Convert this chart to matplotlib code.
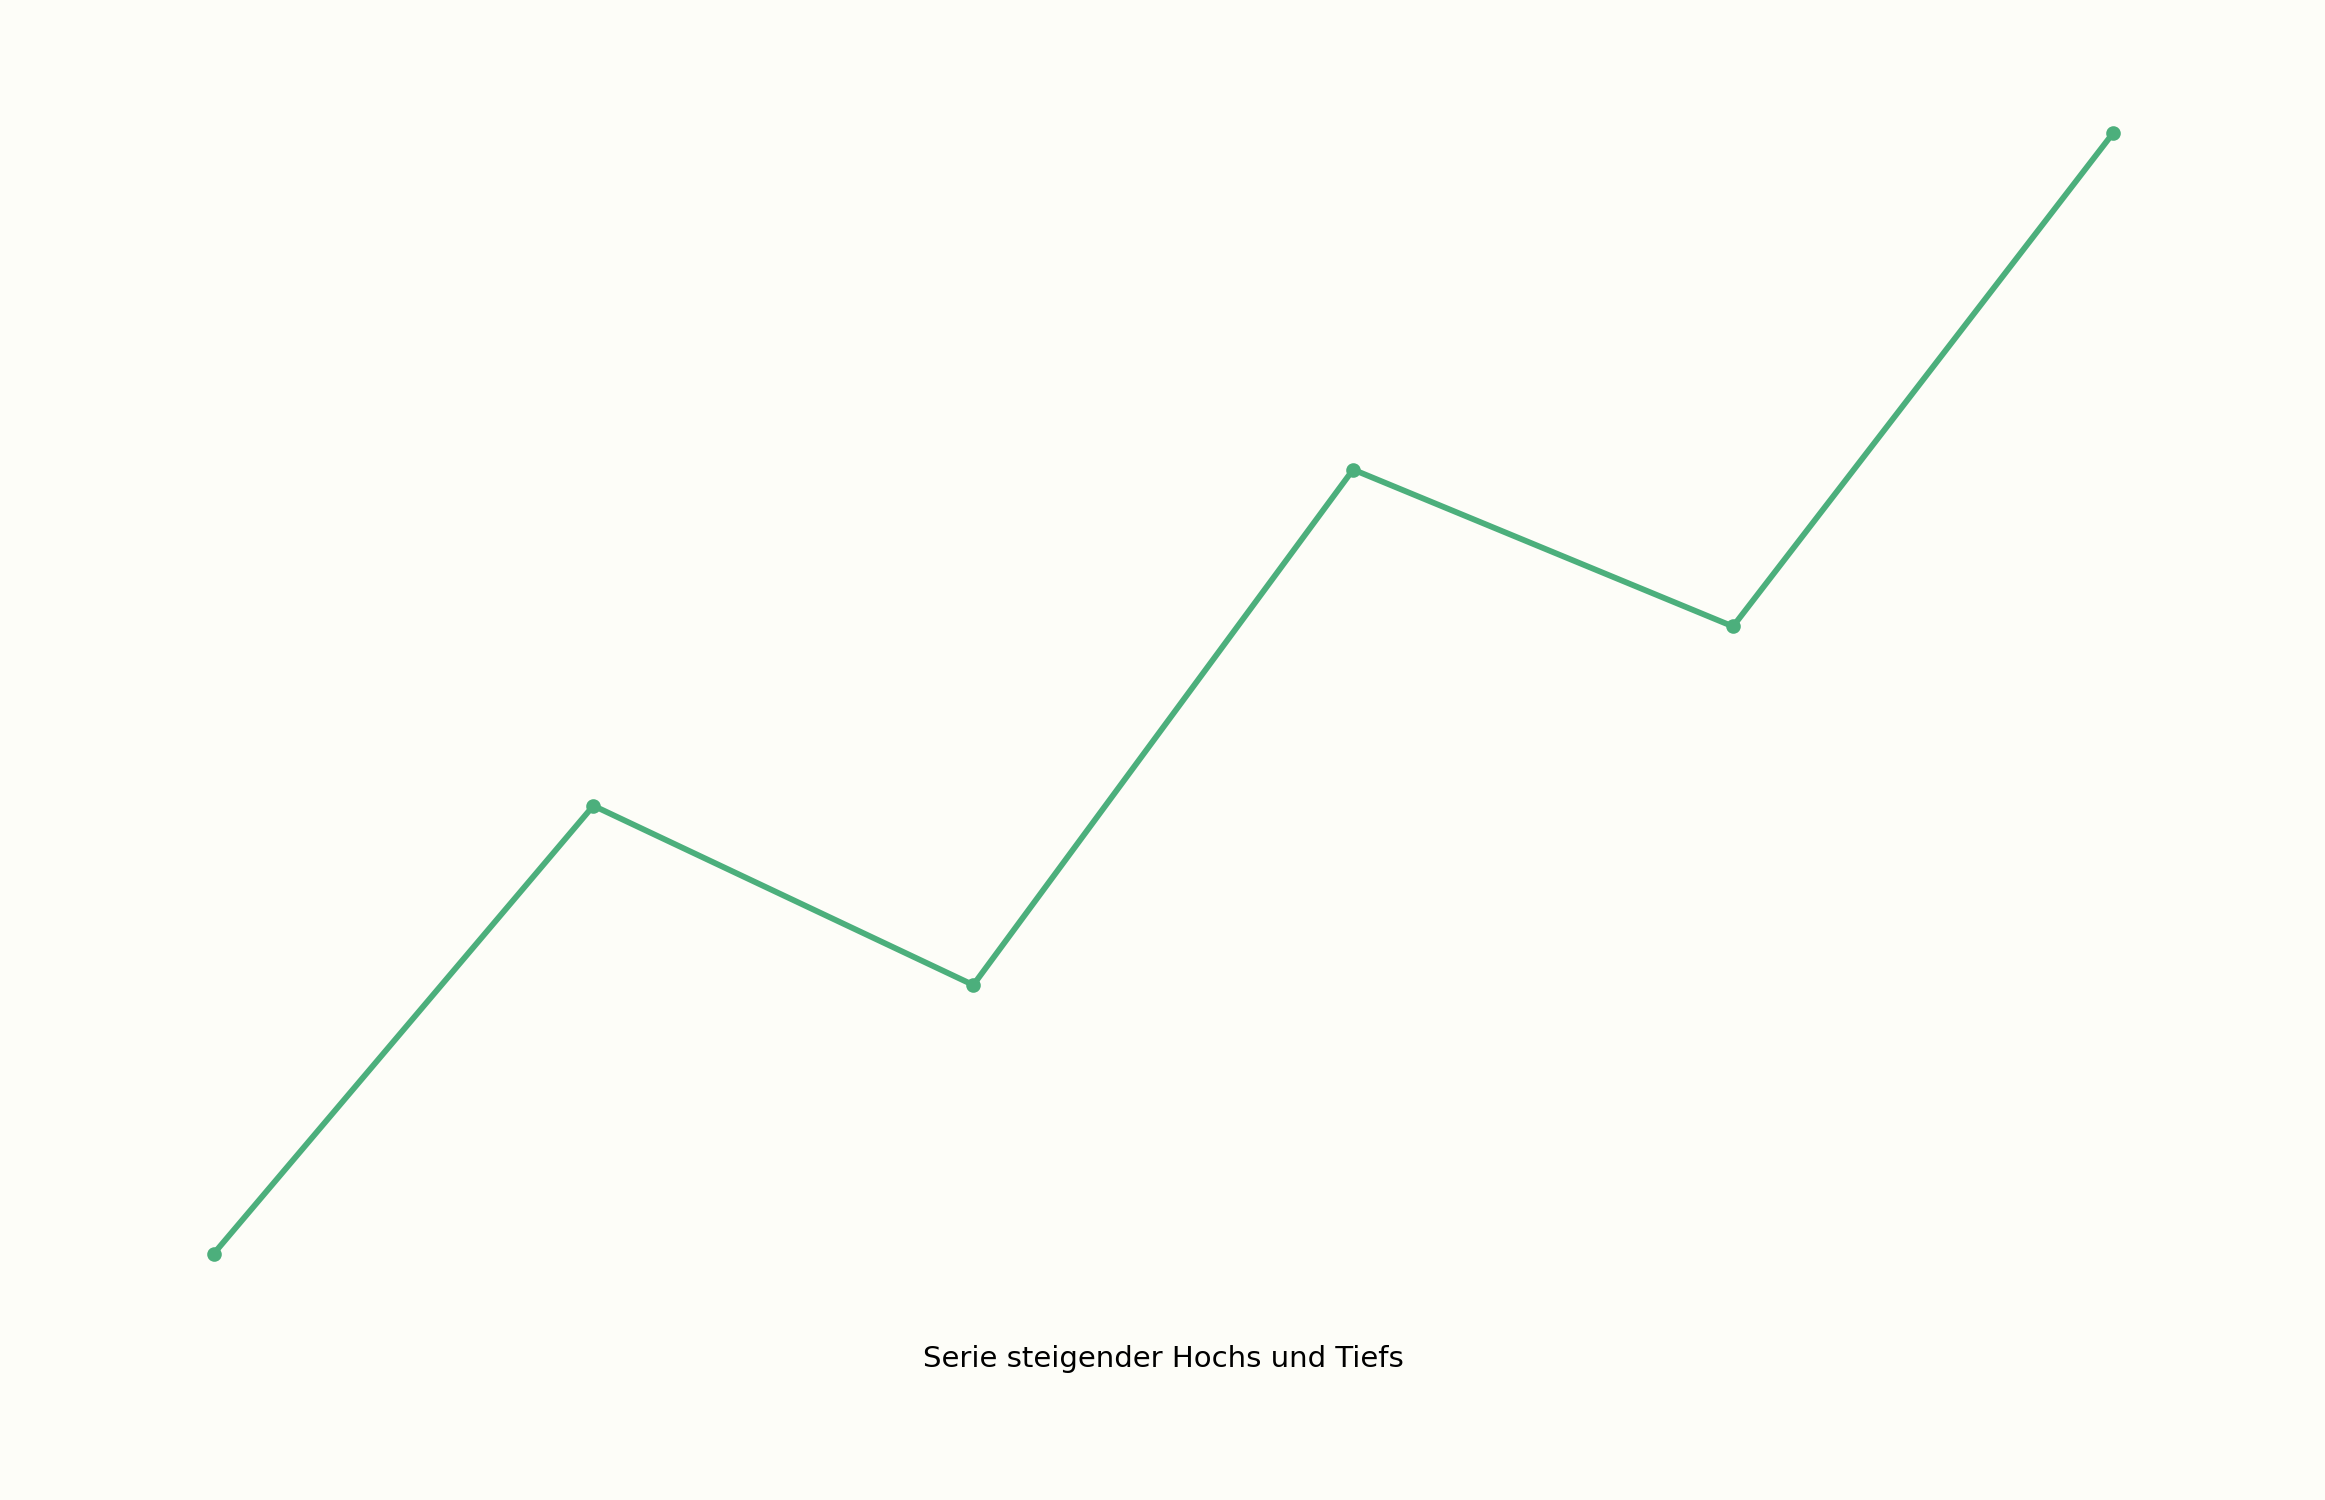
import matplotlib
matplotlib.use("Agg")
import matplotlib.pyplot as plt

x_labels = ["P1", "P2", "P3", "P4", "P5", "P6"]
values = [0, 40, 24, 70, 56, 100]
xlabel_text = "Serie steigender Hochs und Tiefs"

bg = "#FDFDF8"
line_color = "#4CAF7C"

fig = plt.figure(figsize=(15.5, 10), dpi=150, facecolor=bg)
ax = fig.add_axes([0.051, 0.1267, 0.8986, 0.8217])
ax.set_facecolor(bg)
ax.plot(range(len(values)), values, color=line_color, linewidth=2.8,
        marker="o", markersize=6)
ax.set_xticks([])
ax.set_yticks([])
for s in ax.spines.values():
    s.set_visible(False)
ax.set_xlabel(xlabel_text, fontsize=14, labelpad=17)
fig.savefig("out.png", dpi=150, facecolor=bg)
